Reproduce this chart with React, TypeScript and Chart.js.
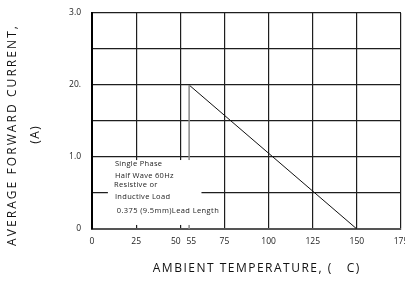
import React, { useEffect, useRef } from "react";
import { Chart, registerables } from "chart.js";
Chart.register(...registerables);

// ---- data ----
const xTickValues = [0, 25, 50, 55, 75, 100, 125, 150, 175];
const xTickTexts = ["0", "25", "50    ", "  55", "75", "100", "125", "150", "175"];
const yTickValues = [0, 1, 2, 3];
const yTickTexts = ["0", "1.0", "20.", "3.0"];
const deratingX = [55, 150];
const deratingY = [2.0, 0];
const markerX = [55, 55];
const markerY = [2.0, 0];
const noteLines = [
  "Single Phase",
  "Half Wave 60Hz",
  "Resistive or",
  "Inductive Load",
  "0.375 (9.5mm)Lead Length",
];
const xTitle = "AMBIENT TEMPERATURE, (   C)";
const yTitle = "AVERAGE FORWARD CURRENT,";
const yTitle2 = "(A)";

const FONT = '"Open Sans", "DejaVu Sans", sans-serif';

function drawSpaced(ctx: CanvasRenderingContext2D, text: string, target: number) {
  (ctx as any).letterSpacing = "0px";
  const w = ctx.measureText(text).width;
  const ls = Math.max(0, (target - w) / text.length);
  (ctx as any).letterSpacing = ls + "px";
  ctx.fillText(text, ls / 2, 0);
  (ctx as any).letterSpacing = "0px";
}

const overlay = {
  id: "overlay",
  afterDatasetsDraw(chart: any) {
    const { ctx } = chart;
    const xs = chart.scales.x;
    const ys = chart.scales.y;
    ctx.save();
    // note box
    const x0 = xs.getPixelForValue(9);
    const x1 = xs.getPixelForValue(62);
    const y0 = ys.getPixelForValue(0.958);
    const y1 = ys.getPixelForValue(0.056);
    ctx.fillStyle = "#ffffff";
    ctx.fillRect(x0, y0, x1 - x0, y1 - y0);
    ctx.fillStyle = "#222";
    ctx.font = `7.5px ${FONT}`;
    ctx.textBaseline = "middle";
    ctx.textAlign = "left";
    const noteY = [0.905, 0.74, 0.615, 0.44, 0.25];
    const noteX = [13, 13, 12.5, 13, 14];
    noteLines.forEach((t, i) => {
      (ctx as any).letterSpacing = i === 4 ? "0.4px" : "0.3px";
      ctx.fillText(t, xs.getPixelForValue(noteX[i]), ys.getPixelForValue(noteY[i]));
    });
    (ctx as any).letterSpacing = "0px";

    // titles
    ctx.fillStyle = "#111";
    ctx.font = `12px ${FONT}`;
    ctx.textAlign = "center";
    ctx.textBaseline = "middle";
    ctx.save();
    ctx.translate(256, 269);
    drawSpaced(ctx, xTitle, 208);
    ctx.restore();

    ctx.save();
    ctx.translate(13, 136);
    ctx.rotate(-Math.PI / 2);
    drawSpaced(ctx, yTitle, 222);
    ctx.restore();

    ctx.save();
    ctx.translate(36, 135);
    ctx.rotate(-Math.PI / 2);
    drawSpaced(ctx, yTitle2, 19);
    ctx.restore();

    ctx.restore();
  },
};

export default function App() {
  const ref = useRef<HTMLCanvasElement>(null);
  useEffect(() => {
    if (!ref.current) return;
    const chart = new Chart(ref.current, {
      type: "line",
      data: {
        datasets: [
          {
            data: markerX.map((x, i) => ({ x, y: markerY[i] })),
            borderColor: "#8a8a8a",
            borderWidth: 1.5,
            pointRadius: 0,
          },
          {
            data: deratingX.map((x, i) => ({ x, y: deratingY[i] })),
            borderColor: "#111",
            borderWidth: 1,
            pointRadius: 0,
          },
        ],
      },
      options: {
        animation: false,
        responsive: false,
        maintainAspectRatio: false,
        layout: { padding: { top: 13, right: 4, left: 0, bottom: 0 } },
        plugins: { legend: { display: false }, tooltip: { enabled: false } },
        scales: {
          x: {
            type: "linear",
            min: 0,
            max: 175,
            afterBuildTicks: (s: any) => {
              s.ticks = xTickValues.map((v) => ({ value: v }));
            },
            afterFit: (s: any) => {
              s.height = 52;
              s.paddingLeft = 0;
              s.paddingRight = 0;
            },
            ticks: {
              autoSkip: false,
              maxRotation: 0,
              padding: 7,
              color: "#222",
              font: { size: 8.5, family: FONT },
              callback: (v: any) => {
                const i = xTickValues.indexOf(Number(v));
                return i >= 0 ? xTickTexts[i] : "";
              },
            },
            grid: {
              drawTicks: false,
              lineWidth: 1.2,
              color: (c: any) =>
                c.tick && c.tick.value === 55 ? "rgba(0,0,0,0)" : "#1e1e1e",
            },
            border: { color: "#555", width: 2 },
          },
          y: {
            type: "linear",
            min: 0,
            max: 3,
            afterFit: (s: any) => {
              s.width = 92;
              s.paddingTop = 0;
              s.paddingBottom = 0;
            },
            ticks: {
              stepSize: 0.5,
              padding: 11,
              color: "#222",
              font: { size: 8.5, family: FONT },
              callback: (v: any) => {
                const i = yTickValues.indexOf(Number(v));
                return i >= 0 ? yTickTexts[i] : "";
              },
            },
            grid: { drawTicks: false, lineWidth: 1.2, color: "#1e1e1e" },
            border: { color: "#000", width: 2 },
          },
        },
      },
      plugins: [overlay],
    } as any);
    return () => chart.destroy();
  }, []);
  return (
    <div style={{ position: "absolute", left: 0, top: 0, width: 405, height: 281, background: "#fff" }}>
      <canvas ref={ref} width={405} height={281} style={{ width: 405, height: 281 }} />
    </div>
  );
}
